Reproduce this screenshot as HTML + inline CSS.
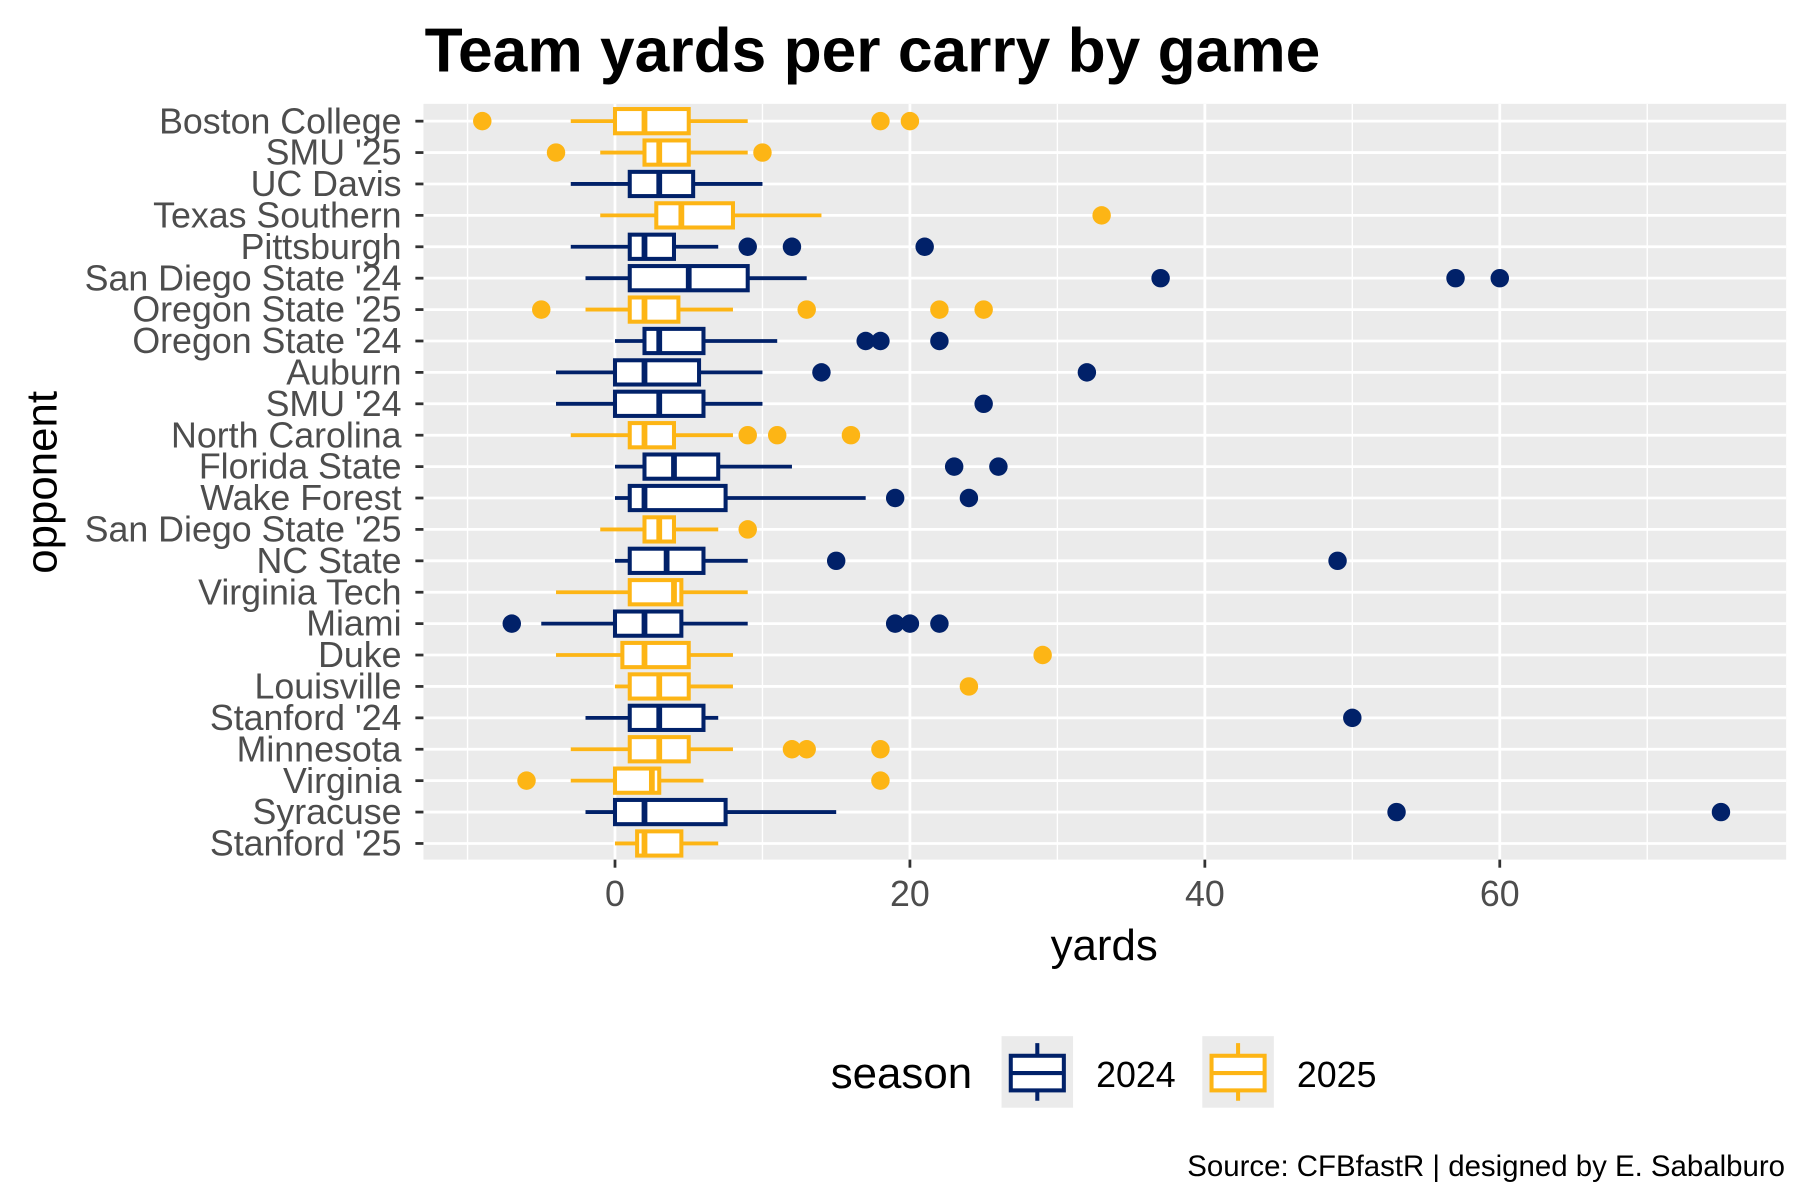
<!DOCTYPE html>
<html><head><meta charset="utf-8"><style>html,body{margin:0;padding:0;background:#fff}svg{display:block}text{font-family:"Liberation Sans",sans-serif}</style></head>
<body>
<svg id="chart" width="1800" height="1200" viewBox="0 0 1560 1040" xmlns="http://www.w3.org/2000/svg">
<rect x="0" y="0" width="1560" height="1040" fill="#fff"/>
<text x="368" y="62" font-size="54" font-weight="bold" fill="#000">Team yards per carry by game</text>
<rect x="367" y="90" width="1181" height="655" fill="#ebebeb"/>
<g id="grid"></g>
<g id="marks"></g>
<g id="axes"></g>
<text transform="translate(49,418) rotate(-90)" text-anchor="middle" font-size="38" fill="#000">opponent</text>
<text x="957" y="832" text-anchor="middle" font-size="38" fill="#000">yards</text>
<g>
<text x="720" y="943" font-size="38" fill="#000">season</text>
<g>
<rect x="868" y="898" width="62" height="62" fill="#ebebeb"/>
<line x1="899" y1="904" x2="899" y2="954" stroke="#012169" stroke-width="3.5"/>
<rect x="876" y="915" width="46" height="30" fill="#fff" stroke="#012169" stroke-width="3.5"/>
<line x1="876" y1="930" x2="922" y2="930" stroke="#012169" stroke-width="3.5"/>
<text x="950" y="942" font-size="31" fill="#000">2024</text>
</g>
<g>
<rect x="1042" y="898" width="62" height="62" fill="#ebebeb"/>
<line x1="1073" y1="904" x2="1073" y2="954" stroke="#FDB515" stroke-width="3.5"/>
<rect x="1050" y="915" width="46" height="30" fill="#fff" stroke="#FDB515" stroke-width="3.5"/>
<line x1="1050" y1="930" x2="1096" y2="930" stroke="#FDB515" stroke-width="3.5"/>
<text x="1124" y="942" font-size="31" fill="#000">2025</text>
</g>
</g>
<text x="1547" y="1019" text-anchor="end" font-size="25.5" fill="#000">Source: CFBfastR | designed by E. Sabalburo</text>
</svg>
<script>
const opponents = ["Boston College","SMU '25","UC Davis","Texas Southern","Pittsburgh","San Diego State '24","Oregon State '25","Oregon State '24","Auburn","SMU '24","North Carolina","Florida State","Wake Forest","San Diego State '25","NC State","Virginia Tech","Miami","Duke","Louisville","Stanford '24","Minnesota","Virginia","Syracuse","Stanford '25"];
const seasons = [2025,2025,2024,2025,2024,2024,2025,2024,2024,2024,2025,2024,2024,2025,2024,2025,2024,2025,2025,2024,2025,2025,2024,2025];
const whiskerLow = [-3,-1,-3,-1,-3,-2,-2,0,-4,-4,-3,0,0,-1,0,-4,-5,-4,0,-2,-3,-3,-2,0];
const q1 = [0,2,1,2.8,1,1,1,2,0,0,1,2,1,2,1,1,0,0.5,1,1,1,0,0,1.5];
const medians = [2,3,3,4.5,2,5,2,3,2,3,2,4,2,3,3.5,4,2,2,3,3,3,2.5,2,2];
const q3 = [5,5,5.3,8,4,9,4.3,6,5.7,6,4,7,7.5,4,6,4.5,4.5,5,5,6,5,3,7.5,4.5];
const whiskerHigh = [9,9,10,14,7,13,8,11,10,10,8,12,17,7,9,9,9,8,8,7,8,6,15,7];
const outliers = [[-9,18,20],[-4,10],[],[33],[9,12,21],[37,57,60],[-5,13,22,25],[17,18,22],[14,32],[25],[9,11,16],[23,26],[19,24],[9],[15,49],[],[-7,19,20,22],[29],[24],[50],[12,13,18],[-6,18],[53,75],[]];
const xTicks = [0,20,40,60];
const xMinor = [-10,10,30,50,70];

const NS="http://www.w3.org/2000/svg";
const PX0=367, PX1=1548, PY0=90, PY1=745;
const xScale = v => 533 + v*12.78;
const yScale = i => 105 + i*((731-105)/(opponents.length-1));
const colors = {2024:"#012169",2025:"#FDB515"};
function mk(tag, attrs, parent){const e=document.createElementNS(NS,tag);for(const k in attrs)e.setAttribute(k,attrs[k]);parent.appendChild(e);return e;}
const grid=document.getElementById('grid'), marks=document.getElementById('marks'), axes=document.getElementById('axes');
xMinor.forEach(v=>{const x=xScale(v);if(x<PX0||x>PX1)return;
  const l=mk('line',{x1:x,x2:x,y1:PY0,y2:PY1,stroke:'#fff','stroke-width':1.2},grid);
  
  });
xTicks.forEach(v=>{const x=xScale(v);
  const l=mk('line',{x1:x,x2:x,y1:PY0,y2:PY1,stroke:'#fff','stroke-width':2.4},grid);
  
  
  const t=mk('line',{x1:x,x2:x,y1:PY1,y2:PY1+7,stroke:'#333','stroke-width':2.4},axes);
  
  
  const tx=mk('text',{x:x,y:PY1+40,'text-anchor':'middle','font-size':31,fill:'#4d4d4d'},axes);
  tx.textContent=v;
  
  });
opponents.forEach((name,i)=>{const y=yScale(i);
  const l=mk('line',{x1:PX0,x2:PX1,y1:y,y2:y,stroke:'#fff','stroke-width':2.4},grid);
  
  
  const t=mk('line',{x1:PX0-7,x2:PX0,y1:y,y2:y,stroke:'#333','stroke-width':2.4},axes);
  
  
  const tx=mk('text',{x:348,y:y+10.5,'text-anchor':'end','font-size':31,fill:'#4d4d4d'},axes);
  tx.textContent=name;
  
  
  const c=colors[seasons[i]];
  const g=mk('g',{},marks);
  
  
  mk('line',{x1:xScale(whiskerLow[i]),x2:xScale(q1[i]),y1:y,y2:y,stroke:c,'stroke-width':3.3},g);
  mk('line',{x1:xScale(q3[i]),x2:xScale(whiskerHigh[i]),y1:y,y2:y,stroke:c,'stroke-width':3.3},g);
  mk('rect',{x:xScale(q1[i]),y:y-10.5,width:xScale(q3[i])-xScale(q1[i]),height:21,fill:'#fff',stroke:c,'stroke-width':3.5},g);
  mk('line',{x1:xScale(medians[i]),x2:xScale(medians[i]),y1:y-10.5,y2:y+10.5,stroke:c,'stroke-width':5},g);
  outliers[i].forEach(v=>{const p=mk('circle',{cx:xScale(v),cy:y,r:8,fill:c},g);
    
    });
});
</script>
</body></html>
